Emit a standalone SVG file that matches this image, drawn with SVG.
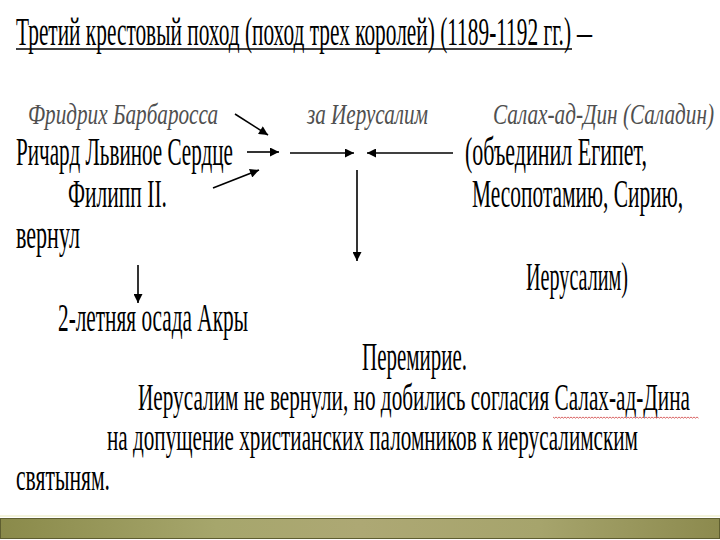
<svg xmlns="http://www.w3.org/2000/svg" width="720" height="540" viewBox="0 0 720 540" font-family="'Liberation Serif', 'DejaVu Serif', serif">
<style>
text{font-family:"Liberation Serif","DejaVu Serif",serif;fill:#000;}
.b{font-size:40px;}
.p{font-size:37px;}
.i{font-size:30px;font-style:italic;fill:#505050;}
.c{stroke:#000;stroke-width:1.6;fill:none;marker-end:url(#ah);}
</style>
<defs>
<marker id="ah" viewBox="0 0 10 10" refX="10" refY="5" markerWidth="11" markerHeight="9" markerUnits="userSpaceOnUse" orient="auto">
<path d="M0,0 L10,5 L0,10 z" fill="#000"/>
</marker>
<linearGradient id="bar" x1="0" y1="0" x2="1" y2="0">
<stop offset="0" stop-color="#8a8a4a"/>
<stop offset="0.3" stop-color="#a6a66c"/>
<stop offset="0.5" stop-color="#ada874"/>
<stop offset="0.75" stop-color="#a6a46c"/>
<stop offset="1" stop-color="#8c8a4e"/>
</linearGradient>
</defs>
<rect width="720" height="540" fill="#fff"/>

<g id="title">
<text class="b" x="16" y="45" textLength="555" lengthAdjust="spacingAndGlyphs">Третий крестовый поход (поход трех королей) (1189-1192 гг.)</text>
<line x1="16" y1="49" x2="572" y2="49" stroke="#000" stroke-width="1.5"/>
<text class="b" x="577" y="45" textLength="15" lengthAdjust="spacingAndGlyphs">–</text>
</g>

<g id="frederick"><text class="i" x="28" y="124" textLength="190" lengthAdjust="spacingAndGlyphs">Фридрих Барбаросса</text></g>
<g id="jerusalem"><text class="i" x="307" y="124" textLength="121" lengthAdjust="spacingAndGlyphs">за Иерусалим</text></g>
<g id="saladin"><text class="i" x="493" y="124" textLength="221" lengthAdjust="spacingAndGlyphs">Салах-ад-Дин (Саладин)</text></g>

<g id="richard"><text class="b" x="16" y="165" textLength="217" lengthAdjust="spacingAndGlyphs">Ричард Львиное Сердце</text></g>
<g id="philip"><text class="b" x="68" y="207" textLength="99" lengthAdjust="spacingAndGlyphs">Филипп II.</text></g>
<g id="returned"><text class="b" x="16" y="248" textLength="64" lengthAdjust="spacingAndGlyphs">вернул</text></g>

<g id="united">
<text class="b" x="465" y="165" textLength="182" lengthAdjust="spacingAndGlyphs">(объединил Египет,</text>
<text class="b" x="472" y="207" textLength="211" lengthAdjust="spacingAndGlyphs">Месопотамию, Сирию,</text>
<text class="b" x="526" y="290" textLength="102" lengthAdjust="spacingAndGlyphs">Иерусалим)</text>
</g>

<g id="acre"><text class="b" x="58" y="331" textLength="190" lengthAdjust="spacingAndGlyphs">2-летняя осада Акры</text></g>

<g id="truce">
<text class="b" x="362" y="370" textLength="105" lengthAdjust="spacingAndGlyphs">Перемирие.</text>
<text class="p" x="138" y="410" textLength="552" lengthAdjust="spacingAndGlyphs">Иерусалим не вернули, но добились согласия Салах-ад-Дина</text>
<path d="M553,417 l1.5,1.2 l1.5,-1.2 l1.5,1.2 l1.5,-1.2 l1.5,1.2 l1.5,-1.2 l1.5,1.2 l1.5,-1.2 l1.5,1.2 l1.5,-1.2 l1.5,1.2 l1.5,-1.2 l1.5,1.2 l1.5,-1.2 l1.5,1.2 l1.5,-1.2 l1.5,1.2 l1.5,-1.2 l1.5,1.2 l1.5,-1.2 l1.5,1.2 l1.5,-1.2 l1.5,1.2 l1.5,-1.2 l1.5,1.2 l1.5,-1.2 l1.5,1.2 l1.5,-1.2 l1.5,1.2 l1.5,-1.2 l1.5,1.2 l1.5,-1.2 l1.5,1.2 l1.5,-1.2 l1.5,1.2 l1.5,-1.2 l1.5,1.2 l1.5,-1.2 l1.5,1.2 l1.5,-1.2 l1.5,1.2 l1.5,-1.2 l1.5,1.2 l1.5,-1.2 l1.5,1.2 l1.5,-1.2 l1.5,1.2 l1.5,-1.2 l1.5,1.2 l1.5,-1.2 l1.5,1.2 l1.5,-1.2 l1.5,1.2 l1.5,-1.2 l1.5,1.2 l1.5,-1.2 l1.5,1.2 l1.5,-1.2 l1.5,1.2 l1.5,-1.2 l1.5,1.2 l1.5,-1.2 l1.5,1.2 l1.5,-1.2 l1.5,1.2 l1.5,-1.2 l1.5,1.2 l1.5,-1.2 l1.5,1.2 l1.5,-1.2 l1.5,1.2 l1.5,-1.2 l1.5,1.2 l1.5,-1.2 l1.5,1.2 l1.5,-1.2 l1.5,1.2 l1.5,-1.2 l1.5,1.2 l1.5,-1.2 l1.5,1.2 l1.5,-1.2 l1.5,1.2 l1.5,-1.2 l1.5,1.2 l1.5,-1.2 l1.5,1.2 l1.5,-1.2 l1.5,1.2 l1.5,-1.2 l1.5,1.2 l1.5,-1.2 l1.5,1.2 l1.5,-1.2 l1.5,1.2 l1.5,-1.2 l1.5,1.2" fill="none" stroke="#d04040" stroke-width="0.8"/>
<text class="p" x="107" y="450" textLength="531" lengthAdjust="spacingAndGlyphs">на допущение христианских паломников к иерусалимским</text>
<text class="p" x="16" y="490" textLength="94" lengthAdjust="spacingAndGlyphs">святыням.</text>
</g>

<g id="connectors">
<line class="c" x1="235" y1="114" x2="268" y2="135"/>
<line class="c" x1="247" y1="152" x2="279" y2="152"/>
<line class="c" x1="213" y1="188" x2="259" y2="170"/>
<line class="c" x1="290" y1="153" x2="354" y2="153"/>
<line class="c" x1="453" y1="153" x2="367" y2="153"/>
<line class="c" x1="357" y1="170" x2="357" y2="261"/>
<line class="c" x1="138" y1="265" x2="138" y2="303"/>
</g>

<g id="footer">
<line x1="0" y1="516" x2="720" y2="516" stroke="#f4f4dc" stroke-width="2"/>
<rect x="0.5" y="518.5" width="719" height="20" fill="url(#bar)" stroke="#5e5e30" stroke-width="1"/>
</g>
</svg>
